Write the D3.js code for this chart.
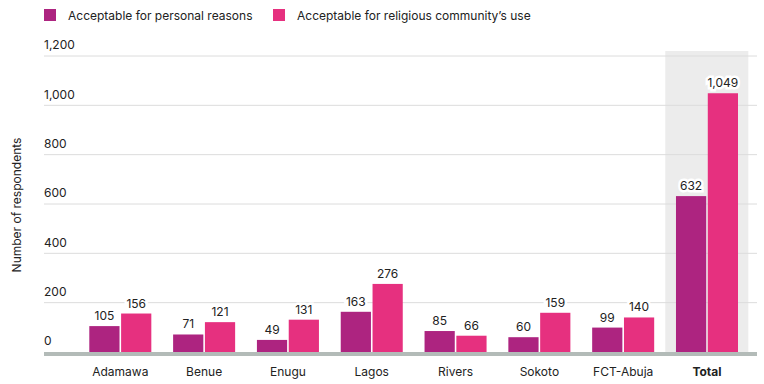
<!DOCTYPE html>
<html><head><meta charset="utf-8">
<script src="https://cdn.jsdelivr.net/npm/d3@7"></script>
<style>body{margin:0;background:#fff;} svg{display:block;font-family:Inter,"Noto Sans",sans-serif;}</style>
</head><body>
<svg id="c" width="764" height="384"></svg>
<script>
const categories = ["Adamawa","Benue","Enugu","Lagos","Rivers","Sokoto","FCT-Abuja","Total"];
const seriesNames = ["Acceptable for personal reasons","Acceptable for religious community\u2019s use"];
const personal = [105,71,49,163,85,60,99,632];
const religious = [156,121,131,276,66,159,140,1049];
const yTicks = [0,200,400,600,800,1000,1200];
const colors = ["#ad2480","#e6307f"];

(function(){
const svg = d3.select("#c");
const mLeft = 44, mRight = 757, mTop = 56, mBottom = 352;
const fs = 12;
const y = d3.scaleLinear().domain([0,1200]).range([mBottom, mTop]);
const x = d3.scaleBand().domain(categories).range([89.3, 738]).paddingInner(0.26).paddingOuter(0);
const xs = d3.scaleBand().domain([0,1]).range([0, x.bandwidth()]).paddingInner(0.05);

// Total highlight
svg.append("rect").attr("x", x("Total") - 10.7).attr("y", 51)
  .attr("width", x.bandwidth() + 21).attr("height", mBottom - 51).attr("fill", "#ececec");

// gridlines
const g = svg.append("g");
yTicks.forEach(t => {
  if (t > 0) g.append("line").attr("x1", mLeft).attr("x2", mRight).attr("y1", y(t)).attr("y2", y(t))
    .attr("stroke", "#dcdcdc").attr("stroke-width", 1);
});
const ya = d3.axisLeft(y).tickValues(yTicks).tickFormat(d3.format(",")).tickSize(0);
const yg = svg.append("g").attr("transform", `translate(${mLeft},0)`).call(ya);
yg.select(".domain").remove();
yg.selectAll("text").attr("text-anchor", "start").attr("x", 0).attr("dy", "-0.6em")
  .attr("font-size", fs).attr("fill", "#222").attr("font-family", "Inter,'Noto Sans',sans-serif");

// bars
const data = categories.map((c, i) => ({c, v: [personal[i], religious[i]]}));
const grp = svg.append("g").selectAll("g").data(data).join("g")
  .attr("transform", d => `translate(${x(d.c)},0)`);
grp.selectAll("rect").data(d => d.v.map((v, k) => ({v, k}))).join("rect")
  .attr("x", d => xs(d.k)).attr("width", xs.bandwidth())
  .attr("y", d => y(d.v)).attr("height", d => mBottom - y(d.v))
  .attr("fill", d => colors[d.k]);
grp.selectAll("text").data(d => d.v.map((v, k) => ({v, k}))).join("text")
  .attr("x", d => xs(d.k) + xs.bandwidth() / 2).attr("y", d => y(d.v) - 6)
  .attr("text-anchor", "middle").attr("font-size", fs).attr("fill", "#222")
  .attr("stroke", "#fff").attr("stroke-width", 5).attr("paint-order", "stroke")
  .text(d => d3.format(",")(d.v));

// baseline
svg.append("rect").attr("x", mLeft).attr("y", mBottom).attr("width", mRight - mLeft).attr("height", 4).attr("fill", "#b3bbb8");

// x labels
const xa = d3.axisBottom(x).tickSize(0);
const xg = svg.append("g").attr("transform", `translate(0,${mBottom + 12})`).call(xa);
xg.select(".domain").remove();
xg.selectAll("text").attr("font-size", fs).attr("fill", "#222").attr("font-family", "Inter,'Noto Sans',sans-serif")
  .attr("font-weight", d => d === "Total" ? 700 : 400);

// y title
svg.append("text").attr("transform", "translate(21,205) rotate(-90)").attr("text-anchor", "middle")
  .attr("font-size", fs).attr("fill", "#222").text("Number of respondents");

// legend
const lx = [44, 273];
seriesNames.forEach((n, i) => {
  svg.append("rect").attr("x", lx[i]).attr("y", 9).attr("width", 12).attr("height", 12).attr("fill", colors[i]);
  svg.append("text").attr("x", lx[i] + 24).attr("y", 19.5).attr("font-size", fs).attr("fill", "#222").text(n);
});
})();
</script>
</body></html>
